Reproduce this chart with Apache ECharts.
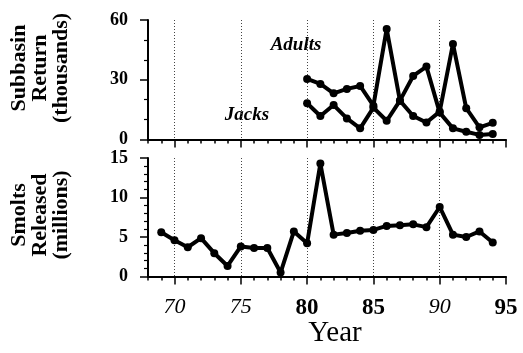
<!DOCTYPE html>
<html><head><meta charset="utf-8">
<script src="https://cdn.jsdelivr.net/npm/echarts@6/dist/echarts.min.js"></script>
<style>html,body{margin:0;padding:0;background:#fff}#c{width:523px;height:353px}</style>
</head><body><div id="c"></div>
<script>
// Axis categories (two-digit years)
const axisYears = ['68','69','70','71','72','73','74','75','76','77','78','79','80','81','82','83','84','85','86','87','88','89','90','91','92','93','94','95'];
const boldYears = ['80','85','95'];

// Subbasin return (thousands)
const returnYears = ['80','81','82','83','84','85','86','87','88','89','90','91','92','93','94'];
const adults = [30.4, 27.9, 23.2, 25.4, 26.9, 17.0, 55.5, 19.5, 11.8, 8.5, 14.0, 48.0, 15.7, 6.1, 8.4];
const jacks  = [18.2, 11.8, 17.3, 10.6, 5.6, 16.0, 9.4, 19.5, 31.9, 36.6, 13.5, 5.6, 3.9, 2.3, 2.8];

// Smolts released (millions)
const smoltYears = ['69','70','71','72','73','74','75','76','77','78','79','80','81','82','83','84','85','86','87','88','89','90','91','92','93','94'];
const smolts = [5.6, 4.6, 3.7, 4.85, 2.95, 1.33, 3.8, 3.6, 3.6, 0.5, 5.7, 4.2, 14.3, 5.3, 5.5, 5.8, 5.9, 6.4, 6.5, 6.6, 6.25, 8.8, 5.3, 5.0, 5.7, 4.3];

const topTicks = [0, 30, 60];
const bottomTicks = [0, 5, 10, 15];

const SERIF = '"Liberation Serif", "DejaVu Serif", serif';
const isFive = (i, v) => Number(v) % 5 === 0;

function xAxes(gridIndex, withLabels) {
  return [
    { type: 'category', gridIndex, position: 'bottom', data: axisYears, boundaryGap: false,
      axisLine: { show: true, lineStyle: { color: '#000', width: 2 } },
      axisTick: { show: true, interval: 0, length: 4, lineStyle: { color: '#000', width: 1.5 } },
      axisLabel: { show: false }, splitLine: { show: false } },
    { type: 'category', gridIndex, position: 'bottom', offset: 0, data: axisYears, boundaryGap: false,
      axisLine: { show: false },
      axisTick: { show: true, interval: isFive, length: 8, lineStyle: { color: '#000', width: 1.5 } },
      axisLabel: { show: withLabels, interval: isFive, margin: 20,
        formatter: v => boldYears.includes(v) ? '{b|' + v + '}' : '{i|' + v + '}',
        rich: {
          b: { fontFamily: SERIF, fontWeight: 'bold', fontSize: 23, color: '#000' },
          i: { fontFamily: SERIF, fontStyle: 'italic', fontSize: 22, color: '#000' }
        } },
      splitLine: { show: true, interval: (i, v) => isFive(i, v) && v !== '95',
        lineStyle: { color: '#444', width: 1, type: [1, 2] } } }
  ];
}

function yAxis(gridIndex, max, interval, split, ticks) {
  return { type: 'value', gridIndex, min: 0, max, interval,
    axisLine: { show: true, lineStyle: { color: '#000', width: 2 } },
    axisTick: { show: true, length: 8, lineStyle: { color: '#000', width: 1.5 } },
    minorTick: { show: true, splitNumber: split, length: 4, lineStyle: { color: '#000', width: 1.2 } },
    axisLabel: { margin: 20, fontFamily: SERIF, fontWeight: 'bold', fontSize: 18, color: '#000',
      formatter: v => ticks.includes(v) ? String(v) : '' },
    splitLine: { show: false } };
}

const lineStyle = { color: '#000', width: 4 };
function series(name, xIdx, yIdx, xs, ys) {
  return { name, type: 'line', xAxisIndex: xIdx, yAxisIndex: yIdx,
    data: xs.map((x, i) => [x, ys[i]]),
    symbol: 'circle', symbolSize: 8, showSymbol: true,
    lineStyle, itemStyle: { color: '#000' }, animation: false, z: 5 };
}

const chart = echarts.init(document.getElementById('c'), null, { renderer: 'canvas' });
chart.setOption({
  backgroundColor: '#fff',
  animation: false,
  grid: [
    { left: 148, right: 17, top: 20, height: 119.5 },
    { left: 148, right: 17, top: 158, height: 118.5 }
  ],
  xAxis: [...xAxes(0, false), ...xAxes(1, true)],
  yAxis: [yAxis(0, 60, 30, 3, topTicks), yAxis(1, 15, 5, 5, bottomTicks)],
  series: [
    series('Adults', 0, 0, returnYears, adults),
    series('Jacks', 0, 0, returnYears, jacks),
    series('Smolts', 2, 1, smoltYears, smolts)
  ],
  graphic: [
    { type: 'text', x: 40, y: 68, rotation: Math.PI / 2,
      style: { text: 'Subbasin\nReturn\n(thousands)', fontFamily: SERIF, fontWeight: 'bold', fontSize: 22,
        lineHeight: 21, fill: '#000', align: 'center', verticalAlign: 'middle' } },
    { type: 'text', x: 40, y: 215, rotation: Math.PI / 2,
      style: { text: 'Smolts\nReleased\n(millions)', fontFamily: SERIF, fontWeight: 'bold', fontSize: 22,
        lineHeight: 21, fill: '#000', align: 'center', verticalAlign: 'middle' } },
    { type: 'text', x: 296, y: 45,
      style: { text: 'Adults', fontFamily: SERIF, fontWeight: 'bold', fontStyle: 'italic', fontSize: 19,
        fill: '#000', align: 'center', verticalAlign: 'middle' } },
    { type: 'text', x: 247, y: 115,
      style: { text: 'Jacks', fontFamily: SERIF, fontWeight: 'bold', fontStyle: 'italic', fontSize: 19,
        fill: '#000', align: 'center', verticalAlign: 'middle' } },
    { type: 'text', x: 335, y: 333,
      style: { text: 'Year', fontFamily: SERIF, fontSize: 29, fill: '#000', align: 'center', verticalAlign: 'middle' } }
  ]
});
</script></body></html>
